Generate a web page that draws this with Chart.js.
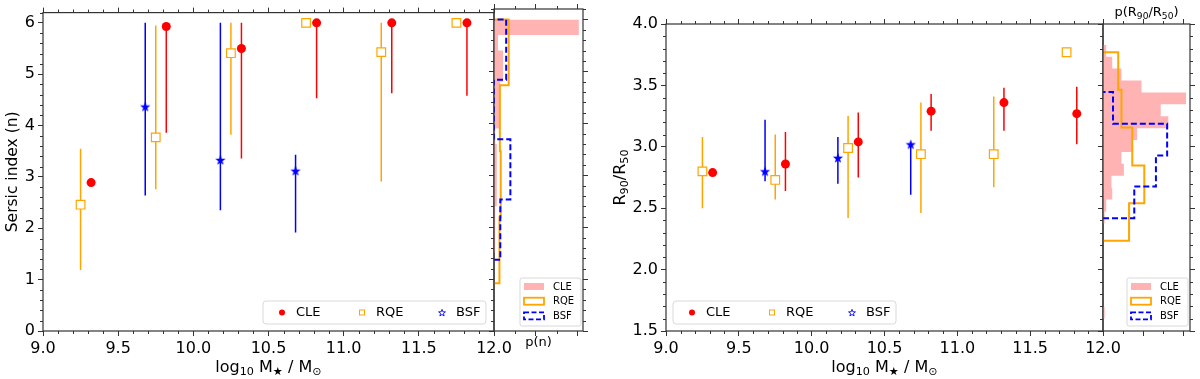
<!DOCTYPE html>
<html>
<head>
<meta charset="utf-8">
<script src="https://cdn.jsdelivr.net/npm/chart.js@4.4.1/dist/chart.umd.min.js"></script>
<style>
  html, body { margin: 0; padding: 0; background: #fff; }
  #wrap { position: relative; width: 1200px; height: 379px; overflow: hidden; }
  #wrap canvas { position: absolute; left: 0; top: 0; }
</style>
</head>
<body>
<div id="wrap">
  <canvas id="sersicChart" width="1200" height="379"></canvas>
  <canvas id="sersicHist" width="1200" height="379"></canvas>
  <canvas id="concChart" width="1200" height="379"></canvas>
  <canvas id="concHist" width="1200" height="379"></canvas>
</div>
<script>
/* Data */

// stellar mass where each median is plotted
const cleMass = [9.32, 9.82, 10.32, 10.82, 11.32, 11.82];
const rqeMass = [9.25, 9.75, 10.25, 10.75, 11.25, 11.75];
const bsfMass = [9.68, 10.18, 10.68];

// Sersic index, median + lower / upper end of the bar
const cleSersic   = [2.89, 5.93, 5.50, 6.00, 6.00, 6.00];
const cleSersicLo = [2.89, 3.86, 3.36, 4.53, 4.63, 4.58];
const cleSersicHi = [2.89, 6.00, 6.00, 6.00, 6.00, 6.00];
const rqeSersic   = [2.46, 3.77, 5.41, 6.00, 5.43, 6.00];
const rqeSersicLo = [1.19, 2.76, 3.82, 6.00, 2.91, 6.00];
const rqeSersicHi = [3.55, 5.95, 6.00, 6.00, 6.00, 6.00];
const bsfSersic   = [4.37, 3.33, 3.12];
const bsfSersicLo = [2.64, 2.35, 1.92];
const bsfSersicHi = [6.00, 6.00, 3.43];

// concentration R90/R50
const cleConc   = [2.79, 2.86, 3.04, 3.29, 3.36, 3.27];
const cleConcLo = [2.79, 2.64, 2.75, 3.13, 3.13, 3.02];
const cleConcHi = [2.79, 3.12, 3.28, 3.43, 3.48, 3.49];
const rqeConc   = [2.80, 2.73, 2.99, 2.94, 2.94, 3.77];
const rqeConcLo = [2.50, 2.57, 2.42, 2.46, 2.67, 3.77];
const rqeConcHi = [3.08, 3.10, 3.25, 3.36, 3.41, 3.77];
const bsfConc   = [2.80, 2.91, 3.02];
const bsfConcLo = [2.72, 2.70, 2.61];
const bsfConcHi = [3.22, 3.08, 3.02];

// side histograms: bin edges (low -> high) and p per bin
const cleSersicEdges = [1.5, 1.8, 2.1, 2.4, 2.7, 3.0, 3.3, 3.6, 3.9, 4.2, 4.5, 4.8, 5.1, 5.4, 5.7, 6.0];
const cleSersicP     = [0.024, 0.024, 0.036, 0.06, 0.06, 0.071, 0.071, 0.031, 0.143, 0.143, 0.155, 0.214, 0.214, 0.095, 2.02];
const rqeSersicEdges = [0.92, 2.19, 3.46, 4.73, 6.0];
const rqeSersicP     = [0.13, 0.16, 0.14, 0.35];
const bsfSersicEdges = [1.37, 2.53, 3.69, 4.84, 6.0];
const bsfSersicP     = [0.15, 0.39, 0, 0.29];

const cleConcEdges = [1.600, 1.697, 1.794, 1.891, 1.988, 2.085, 2.182, 2.279, 2.376, 2.473, 2.570, 2.667,
                      2.764, 2.861, 2.958, 3.055, 3.152, 3.249, 3.346, 3.443, 3.540, 3.637, 3.734, 3.830];
const cleConcP     = [0.04, 0, 0, 0, 0, 0, 0, 0, 0.04, 0.08, 0.23, 0.21, 0.52, 0.46, 0.73, 0.85,
                      1.63, 1.44, 2.07, 0.96, 0.46, 0.23, 0.08];
const rqeConcEdges = [2.234, 2.541, 2.847, 3.157, 3.464, 3.769];
const rqeConcP     = [0.65, 1.03, 0.73, 0.46, 0.38];
const bsfConcEdges = [2.418, 2.676, 2.929, 3.188, 3.446];
const bsfConcP     = [0.78, 1.32, 1.60, 0.25];

const legendLabels = ['CLE', 'RQE', 'BSF'];

// axis titles, [text, subscript?]
const massTitle   = [['log', 0], ['10', 1], [' M', 0], ['\u2605', 1], [' / M', 0], ['\u2299', 1]];
const sersicTitle = [['Sersic index (n)', 0]];
const concTitle   = [['R', 0], ['90', 1], ['/R', 0], ['50', 1]];
const pnTitle     = [['p(n)', 0]];
const pcTitle     = [['p(R', 0], ['90', 1], ['/R', 0], ['50', 1], [')', 0]];

const FONT = '"DejaVu Sans", Verdana, sans-serif';
const RED = '#ff0000', ORANGE = '#ffa500', BLUE = '#0000ff', PINK = '#ffb3b3';
Chart.defaults.font.family = FONT;
Chart.defaults.color = '#000';


/* Helpers */

// filled star used as point style for BSF
function starPath(ctx, cx, cy, outer, inner) {
    ctx.beginPath();
    for (let i = 0; i < 10; i++) {
        const r = i % 2 ? inner : outer;
        const a = -Math.PI / 2 + i * Math.PI / 5;
        ctx.lineTo(cx + r * Math.cos(a), cy + r * Math.sin(a));
    }
    ctx.closePath();
}
function starImage(color, outer, inner) {
    const c = document.createElement('canvas');
    c.width = c.height = 14;
    const g = c.getContext('2d');
    starPath(g, 7, 7.5, outer, inner);
    g.fillStyle = color;
    g.fill();
    return c;
}
const bsfStar = starImage(BLUE, 5.4, 2.2);

// error bars as one broken line per sample
function errorBars(xs, lo, hi) {
    const pts = [];
    xs.forEach((x, i) => pts.push({x: x, y: lo[i]}, {x: x, y: hi[i]}, {x: x, y: null}));
    return pts;
}
function points(xs, ys) {
    return xs.map((x, i) => ({x: x, y: ys[i]}));
}
// outline of a horizontal step histogram
function stepOutline(edges, p) {
    const pts = [{x: 0, y: edges[0]}];
    p.forEach((v, i) => pts.push({x: v, y: edges[i]}, {x: v, y: edges[i + 1]}));
    pts.push({x: 0, y: edges[edges.length - 1]});
    return pts;
}

function tickAxis(position, min, max, step, size, labels, fmt) {
    const ticks = {display: labels, stepSize: step, includeBounds: false, padding: 3,
                   font: {size: 16}, color: '#000', maxRotation: 0, autoSkip: false};
    if (fmt) ticks.callback = fmt;
    return {
        type: 'linear', position: position, min: min, max: max,
        border: {display: false},
        grid: {display: true, drawOnChartArea: false, drawTicks: true, tickLength: 5, color: '#333'},
        ticks: ticks,
        afterFit: s => { if (s.isHorizontal()) s.height = size; else s.width = size; }
    };
}

function baseOptions(padding) {
    return {
        responsive: false, animation: false, devicePixelRatio: 1, events: [],
        layout: {padding: padding, autoPadding: false},
        plugins: {legend: {display: false}, tooltip: {enabled: false}}
    };
}

function drawRich(ctx, parts, cx, cy, size, vertical) {
    ctx.save();
    ctx.translate(cx, cy);
    if (vertical) ctx.rotate(-Math.PI / 2);
    const sub = size * 0.7;
    let total = 0;
    const widths = parts.map(([t, s]) => {
        ctx.font = (s ? sub : size) + 'px ' + FONT;
        const w = ctx.measureText(t).width;
        total += w;
        return w;
    });
    let x = -total / 2;
    ctx.fillStyle = '#000';
    ctx.textBaseline = 'alphabetic';
    parts.forEach(([t, s], i) => {
        ctx.font = (s ? sub : size) + 'px ' + FONT;
        ctx.fillText(t, x, size * 0.36 + (s ? size * 0.22 : 0));
        x += widths[i];
    });
    ctx.restore();
}

function roundRect(ctx, x, y, w, h, r) {
    ctx.beginPath();
    ctx.moveTo(x + r, y);
    ctx.arcTo(x + w, y, x + w, y + h, r);
    ctx.arcTo(x + w, y + h, x, y + h, r);
    ctx.arcTo(x, y + h, x, y, r);
    ctx.arcTo(x, y, x + w, y, r);
    ctx.closePath();
}


/* Plugins */

const frame = {
    id: 'frame',
    afterDraw(chart) {
        const a = chart.chartArea, ctx = chart.ctx;
        ctx.save();
        ctx.strokeStyle = '#333';
        ctx.lineWidth = 1.2;
        ctx.strokeRect(a.left, a.top, a.right - a.left, a.bottom - a.top);
        ctx.restore();
    }
};

function minorTicks(steps) {
    return {
        id: 'minorTicks',
        afterDraw(chart) {
            const ctx = chart.ctx;
            ctx.save();
            ctx.strokeStyle = '#333';
            ctx.lineWidth = 1;
            Object.keys(steps).forEach(id => {
                const s = chart.scales[id], step = steps[id];
                const majors = s.ticks.map(t => t.value);
                const k0 = Math.ceil(s.min / step - 1e-6), k1 = Math.floor(s.max / step + 1e-6);
                for (let k = k0; k <= k1; k++) {
                    const v = k * step;
                    if (majors.some(m => Math.abs(m - v) < step / 10)) continue;
                    const p = Math.round(s.getPixelForValue(v)) + 0.5;
                    ctx.beginPath();
                    if (s.position === 'bottom') { ctx.moveTo(p, s.top); ctx.lineTo(p, s.top + 3); }
                    else if (s.position === 'top') { ctx.moveTo(p, s.bottom); ctx.lineTo(p, s.bottom - 3); }
                    else if (s.position === 'left') { ctx.moveTo(s.right, p); ctx.lineTo(s.right - 3, p); }
                    else { ctx.moveTo(s.left, p); ctx.lineTo(s.left + 3, p); }
                    ctx.stroke();
                }
            });
            ctx.restore();
        }
    };
}

function titles(draw) {
    return { id: 'titles', afterDraw: chart => draw(chart.ctx, chart.chartArea) };
}

// legend box for the scatter panels
function markerLegend(alignRight) {
    return {
        id: 'markerLegend',
        afterDraw(chart) {
            const ctx = chart.ctx, a = chart.chartArea;
            const w = 223, h = 23;
            const left = alignRight ? a.right - 8 - w : a.left + 7;
            const top = a.bottom - 7 - h;
            const cy = top + h / 2;
            ctx.save();
            roundRect(ctx, left, top, w, h, 3);
            ctx.fillStyle = 'rgba(255,255,255,0.8)';
            ctx.fill();
            ctx.strokeStyle = '#d9d9d9';
            ctx.lineWidth = 1;
            ctx.stroke();
            legendLabels.forEach((label, i) => {
                const mx = left + 19 + i * 80;
                if (i === 0) {
                    ctx.beginPath(); ctx.arc(mx, cy, 3, 0, Math.PI * 2);
                    ctx.fillStyle = RED; ctx.fill();
                } else if (i === 1) {
                    ctx.fillStyle = '#fff'; ctx.fillRect(mx - 2.5, cy - 2.5, 5, 5);
                    ctx.strokeStyle = ORANGE; ctx.strokeRect(mx - 2.5, cy - 2.5, 5, 5);
                } else {
                    starPath(ctx, mx, cy + 0.5, 3.6, 1.5);
                    ctx.strokeStyle = BLUE; ctx.lineWidth = 0.9; ctx.stroke();
                }
                ctx.fillStyle = '#000';
                ctx.font = '13px ' + FONT;
                ctx.textBaseline = 'middle';
                ctx.fillText(label, mx + 14, cy + 0.5);
            });
            ctx.restore();
        }
    };
}

// legend box for the histogram panels
const histLegend = {
    id: 'histLegend',
    afterDraw(chart) {
        const ctx = chart.ctx, a = chart.chartArea;
        const w = 61, h = 48;
        const left = a.right - 2 - w, top = a.bottom - 5 - h;
        ctx.save();
        roundRect(ctx, left, top, w, h, 2);
        ctx.fillStyle = 'rgba(255,255,255,0.8)';
        ctx.fill();
        ctx.strokeStyle = '#d9d9d9';
        ctx.lineWidth = 1;
        ctx.stroke();
        legendLabels.forEach((label, i) => {
            const cy = top + 8.5 + i * 14.7;
            ctx.setLineDash([]);
            if (i === 0) {
                ctx.fillStyle = PINK; ctx.fillRect(left + 4, cy - 3.5, 20, 7);
            } else {
                ctx.strokeStyle = i === 1 ? ORANGE : BLUE;
                ctx.lineWidth = 1.8;
                if (i === 2) ctx.setLineDash([5, 2.5]);
                ctx.strokeRect(left + 4, cy - 3.5, 20, 7);
            }
            ctx.setLineDash([]);
            ctx.fillStyle = '#000';
            ctx.font = '10px ' + FONT;
            ctx.textBaseline = 'middle';
            ctx.fillText(label, left + 33, cy + 0.5);
        });
        ctx.restore();
    }
};


/* Charts */

function scatterSets(cm, cy, clo, chi, rm, ry, rlo, rhi, bm, by, blo, bhi) {
    return [
        {data: points(cm, cy), pointStyle: 'circle', pointRadius: 4.5, backgroundColor: RED, borderWidth: 0},
        {data: points(rm, ry), pointStyle: 'rect', pointRadius: 6.1, backgroundColor: '#fff', borderColor: ORANGE, borderWidth: 1.2},
        {data: points(bm, by), pointStyle: bsfStar, pointRadius: 5},
        {data: errorBars(cm, clo, chi), showLine: true, pointRadius: 0, borderColor: RED, borderWidth: 1.5},
        {data: errorBars(rm, rlo, rhi), showLine: true, pointRadius: 0, borderColor: ORANGE, borderWidth: 1.5},
        {data: errorBars(bm, blo, bhi), showLine: true, pointRadius: 0, borderColor: BLUE, borderWidth: 1.5}
    ];
}

function histSets(ce, cp, re, rp, be, bp) {
    return [
        {data: stepOutline(be, bp), borderColor: BLUE, borderWidth: 2, borderDash: [6, 3], fill: false, pointRadius: 0},
        {data: stepOutline(re, rp), borderColor: ORANGE, borderWidth: 2, fill: false, pointRadius: 0},
        {data: stepOutline(ce, cp), borderColor: 'rgba(0,0,0,0)', borderWidth: 1, backgroundColor: PINK, fill: 'origin', pointRadius: 0}
    ];
}

function createSersicChart() {
    new Chart(document.getElementById('sersicChart'), {
        type: 'scatter',
        data: {datasets: scatterSets(cleMass, cleSersic, cleSersicLo, cleSersicHi,
                                     rqeMass, rqeSersic, rqeSersicLo, rqeSersicHi,
                                     bsfMass, bsfSersic, bsfSersicLo, bsfSersicHi)},
        options: Object.assign(baseOptions({left: 0, right: 706, top: 0, bottom: 0}), {
            scales: {
                x: tickAxis('bottom', 9, 12, 0.5, 48, true, v => v.toFixed(1)),
                x2: tickAxis('top', 9, 12, 0.5, 9, false),
                y: tickAxis('left', 0, 6.2, 1, 43, true)
            }
        }),
        plugins: [minorTicks({x: 0.1, x2: 0.1, y: 0.2}), frame, markerLegend(true),
            titles((ctx, a) => {
                drawRich(ctx, sersicTitle, a.left - 32, (a.top + a.bottom) / 2, 15.5, true);
                drawRich(ctx, massTitle, (a.left + a.right) / 2, a.bottom + 35, 16);
            })]
    });
}

function createSersicHist() {
    new Chart(document.getElementById('sersicHist'), {
        type: 'line',
        data: {datasets: histSets(cleSersicEdges, cleSersicP, rqeSersicEdges, rqeSersicP, bsfSersicEdges, bsfSersicP)},
        options: Object.assign(baseOptions({left: 489, right: 612, top: 0, bottom: 0}), {
            indexAxis: 'y',
            scales: {
                x: tickAxis('bottom', 0, 2.12, 1, 48, false),
                x2: tickAxis('top', 0, 2.12, 1, 9, false),
                y: tickAxis('left', 0, 6.2, 1, 5, false),
                y2: tickAxis('right', 0, 6.2, 1, 5, false)
            }
        }),
        plugins: [minorTicks({x: 0.5, x2: 0.5, y: 0.2, y2: 0.2}), frame, histLegend,
            titles((ctx, a) => drawRich(ctx, pnTitle, (a.left + a.right) / 2, a.bottom + 10, 13))]
    });
}

function createConcChart() {
    new Chart(document.getElementById('concChart'), {
        type: 'scatter',
        data: {datasets: scatterSets(cleMass, cleConc, cleConcLo, cleConcHi,
                                     rqeMass, rqeConc, rqeConcLo, rqeConcHi,
                                     bsfMass, bsfConc, bsfConcLo, bsfConcHi)},
        options: Object.assign(baseOptions({left: 620, right: 97, top: 0, bottom: 0}), {
            scales: {
                x: tickAxis('bottom', 9, 12, 0.5, 48, true, v => v.toFixed(1)),
                x2: tickAxis('top', 9, 12, 0.5, 24, false),
                y: tickAxis('left', 1.5, 4.0, 0.5, 46, true, v => v.toFixed(1))
            }
        }),
        plugins: [minorTicks({x: 0.1, x2: 0.1, y: 0.1}), frame, markerLegend(false),
            titles((ctx, a) => {
                drawRich(ctx, concTitle, a.left - 47, (a.top + a.bottom) / 2, 16, true);
                drawRich(ctx, massTitle, (a.left + a.right) / 2, a.bottom + 35, 16);
            })]
    });
}

function createConcHist() {
    new Chart(document.getElementById('concHist'), {
        type: 'line',
        data: {datasets: histSets(cleConcEdges, cleConcP, rqeConcEdges, rqeConcP, bsfConcEdges, bsfConcP)},
        options: Object.assign(baseOptions({left: 1098, right: 5, top: 0, bottom: 0}), {
            indexAxis: 'y',
            scales: {
                x: tickAxis('bottom', 0, 2.17, 1, 48, false),
                x2: tickAxis('top', 0, 2.17, 1, 24, false),
                y: tickAxis('left', 1.5, 4.0, 0.5, 5, false),
                y2: tickAxis('right', 1.5, 4.0, 0.5, 5, false)
            }
        }),
        plugins: [minorTicks({x: 0.5, x2: 0.5, y: 0.1, y2: 0.1}), frame, histLegend,
            titles((ctx, a) => drawRich(ctx, pcTitle, (a.left + a.right) / 2, a.top - 13, 13))]
    });
}

createSersicChart();
createSersicHist();
createConcChart();
createConcHist();
</script>
</body>
</html>
